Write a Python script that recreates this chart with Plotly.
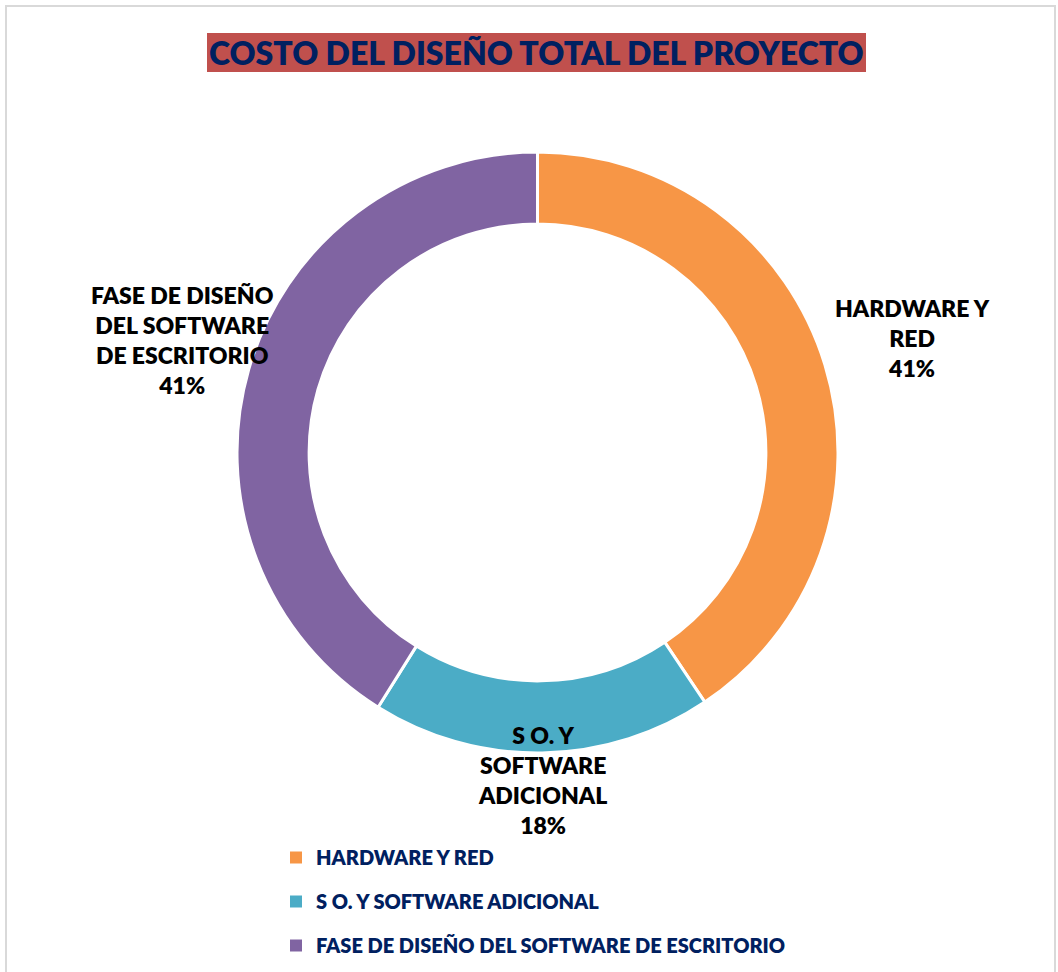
import plotly.graph_objects as go

categories = ["HARDWARE Y RED", "S O. Y SOFTWARE ADICIONAL", "FASE DE DISEÑO DEL SOFTWARE DE ESCRITORIO"]
wrapped_labels = ["HARDWARE Y<br>RED", "S O. Y<br>SOFTWARE<br>ADICIONAL", "FASE DE DISEÑO<br>DEL SOFTWARE<br>DE ESCRITORIO"]
values = [40.6, 18.3, 41.1]
colors = ["#F79646", "#4BACC6", "#8064A2"]
title_text = "COSTO DEL DISEÑO TOTAL DEL PROYECTO"

W, H = 1058, 972
NAVY = "#002060"
FONT = "Lato"

fig = go.Figure()
fig.add_trace(go.Pie(
    labels=categories, values=values, hole=0.76, sort=False, direction="clockwise",
    rotation=0, marker=dict(colors=colors, line=dict(color="white", width=3)),
    textinfo="none", hoverinfo="label+percent", showlegend=False,
    domain=dict(x=[(537.5 - 300.5) / W, (537.5 + 300.5) / W],
                y=[1 - (452.5 + 300.5) / H, 1 - (452.5 - 300.5) / H]),
))

# legend entries
for i, (c, col) in enumerate(zip(categories, colors)):
    fig.add_trace(go.Scatter(x=[None], y=[None], mode="markers", name=c,
                             legendgroup=f"g{i}",
                             marker=dict(symbol="square", size=12, color=col)))

total = sum(values)
label_pos = [(912, 338), (542, 780), (183, 340)]
for lab, v, (px, py) in zip(wrapped_labels, values, label_pos):
    fig.add_annotation(x=px / W, y=1 - py / H, xref="paper", yref="paper",
                       xanchor="center", yanchor="middle",
                       text=f"{lab}<br>{round(v / total * 100)}%",
                       showarrow=False, align="center",
                       font=dict(family=FONT, size=23, color="black", weight=800))

# title with background box
fig.add_shape(type="rect", xref="paper", yref="paper",
              x0=207 / W, x1=866 / W, y0=1 - 72 / H, y1=1 - 33 / H,
              fillcolor="#C0504D", line=dict(width=0), layer="below")
fig.add_annotation(x=536.5 / W, y=1 - 52.5 / H, xref="paper", yref="paper",
                   xanchor="center", yanchor="middle",
                   text=title_text, showarrow=False,
                   font=dict(family=FONT, size=32, color=NAVY, weight=800))

# chart frame
fig.add_shape(type="rect", xref="paper", yref="paper",
              x0=6 / W, x1=1055 / W, y0=-0.05, y1=1 - 6 / H,
              line=dict(color="#D9D9D9", width=2), fillcolor="rgba(0,0,0,0)")

fig.update_layout(
    width=W, height=H, margin=dict(l=0, r=0, t=0, b=0),
    paper_bgcolor="white", plot_bgcolor="white",
    xaxis=dict(visible=False), yaxis=dict(visible=False),
    legend=dict(x=276 / W, y=1 - 838 / H, xanchor="left", yanchor="top",
                tracegroupgap=15, bgcolor="rgba(0,0,0,0)",
                font=dict(family=FONT, size=20, color=NAVY, weight=800), itemclick=False),
    showlegend=True,
)

fig.write_html("out.html")
